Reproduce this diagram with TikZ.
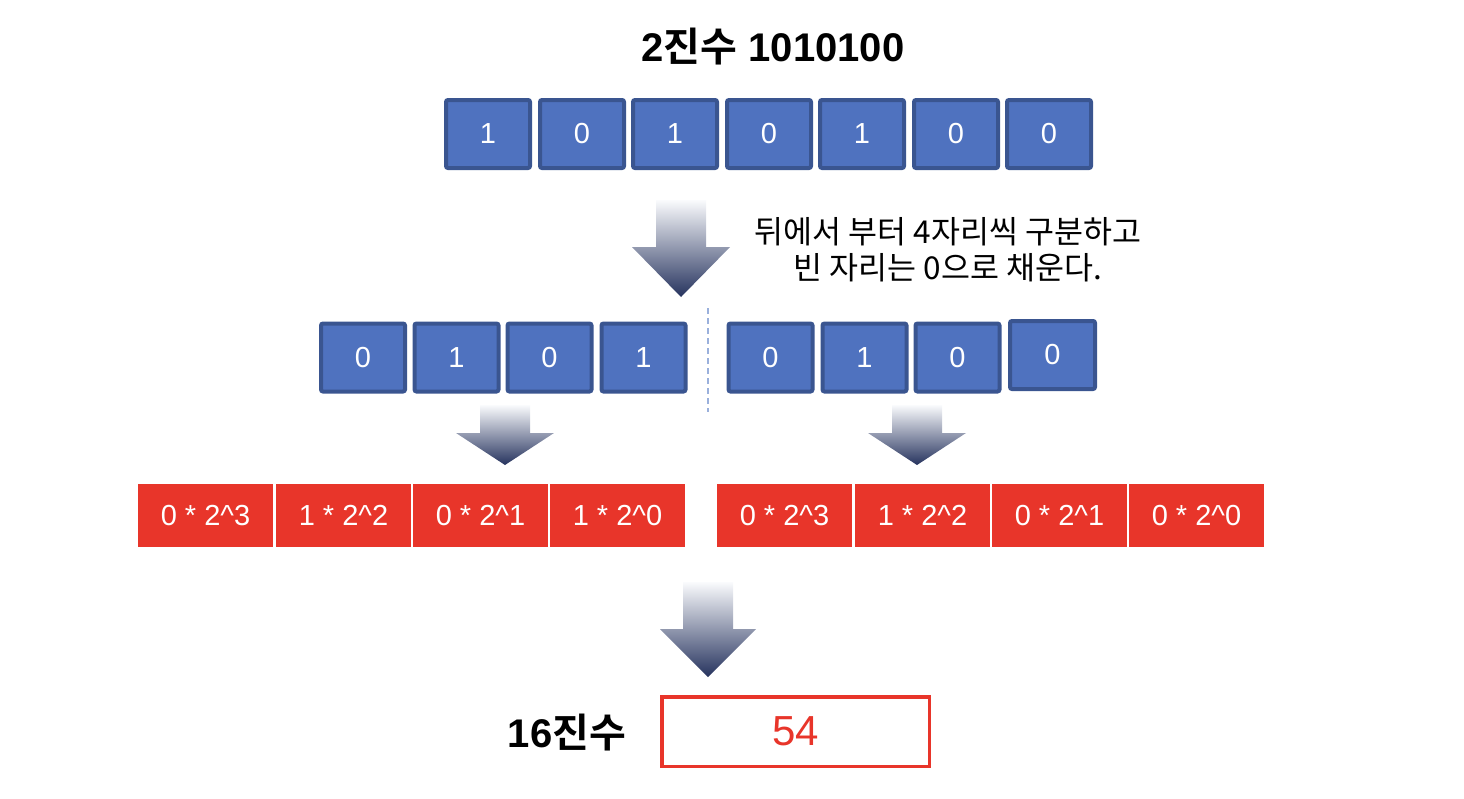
\documentclass[tikz,border=0pt]{standalone}
\usepackage{fontspec}
\setmainfont{Liberation Sans}
\newfontfamily\kr{Noto Sans CJK KR}[BoldFont={Noto Sans CJK KR Bold}]
\definecolor{boxblue}{HTML}{4F72BF}
\definecolor{boxedge}{HTML}{3A5590}
\definecolor{cellred}{HTML}{E8352A}
\definecolor{arrowtop}{HTML}{FAFBFD}
\definecolor{arrowdark}{HTML}{26335E}
\definecolor{dashblue}{HTML}{9AB0DC}
\tikzset{
  bitbox/.style={draw=boxedge, fill=boxblue, line width=4pt, rounded corners=2pt,
    minimum width=84pt, minimum height=68pt, inner sep=0pt, text=white,
    font=\fontsize{29}{32}\selectfont},
  cell/.style={fill=cellred, minimum width=135pt, minimum height=63pt, inner sep=0pt,
    text=white, font=\fontsize{29}{32}\selectfont},
  result/.style={draw=cellred, line width=3.5pt, fill=white, minimum width=267.5pt,
    minimum height=69.5pt, inner sep=0pt, text=cellred, font=\fontsize{42}{46}\selectfont},
  heading/.style={font=\fontsize{40}{44}\selectfont\bfseries, inner sep=0pt},
  note/.style={font=\kr\fontsize{31.5}{36}\selectfont, align=center, inner sep=0pt},
  splitline/.style={draw=dashblue, line width=1.5pt, dash pattern=on 6pt off 4pt},
}
% cx, ytop, yhead, ytip, half head width, half shaft width
\newcommand\fatarrow[6]{%
  \shade[top color=arrowtop, bottom color=arrowdark]
    (#1-#6,#2) -- (#1+#6,#2) -- (#1+#6,#3) -- (#1+#5,#3) -- (#1,#4)
    -- (#1-#5,#3) -- (#1-#6,#3) -- cycle;}
\begin{document}
\begin{tikzpicture}[x=1pt,y=-1pt]
\useasboundingbox (0,0) rectangle (1464,798);
% title
\node[heading] (title) at (773,47) {2{\kr 진수} 1010100};
% top row
\node[bitbox] (b1) at (488,134) {1};
\node[bitbox] (b2) at (582,134) {0};
\node[bitbox] (b3) at (675,134) {1};
\node[bitbox] (b4) at (769,134) {0};
\node[bitbox] (b5) at (862,134) {1};
\node[bitbox] (b6) at (956,134) {0};
\node[bitbox] (b7) at (1049,134) {0};
% arrow 1 and note
\fatarrow{681}{200}{247}{297}{49}{25}
\node[note] (note) at (948,250) {뒤에서 부터 4자리씩 구분하고\\빈 자리는 0으로 채운다.};
% second row
\node[bitbox] (l1) at (363,357.5) {0};
\node[bitbox] (l2) at (456.5,357.5) {1};
\node[bitbox] (l3) at (549.5,357.5) {0};
\node[bitbox] (l4) at (643.5,357.5) {1};
\node[bitbox] (r1) at (770.5,357.5) {0};
\node[bitbox] (r2) at (864.5,357.5) {1};
\node[bitbox] (r3) at (957.5,357.5) {0};
\node[bitbox, minimum width=85pt] (r4) at (1052.5,355) {0};
\coordinate (sepTop) at (708,308);
\coordinate (sepBot) at (708,412);
\draw[splitline] (sepTop) -- (sepBot);
% arrows 2
\fatarrow{505}{405}{433}{465}{49}{25}
\fatarrow{917}{405}{433}{465}{49}{25}
% red cells
\node[cell] (L1) at (205.5,515.5) {0 * 2\^{}3};
\node[cell] (L2) at (343.5,515.5) {1 * 2\^{}2};
\node[cell] (L3) at (480.5,515.5) {0 * 2\^{}1};
\node[cell] (L4) at (617.5,515.5) {1 * 2\^{}0};
\node[cell] (R1) at (784.5,515.5) {0 * 2\^{}3};
\node[cell] (R2) at (922.5,515.5) {1 * 2\^{}2};
\node[cell] (R3) at (1059.5,515.5) {0 * 2\^{}1};
\node[cell] (R4) at (1196.5,515.5) {0 * 2\^{}0};
% arrow 3
\fatarrow{708}{582}{629}{677}{48}{25}
% result
\node[heading] (hexlabel) at (567,733) {16{\kr 진수}};
\node[result] (res) at (795.5,731.5) {54};
\end{tikzpicture}
\end{document}
